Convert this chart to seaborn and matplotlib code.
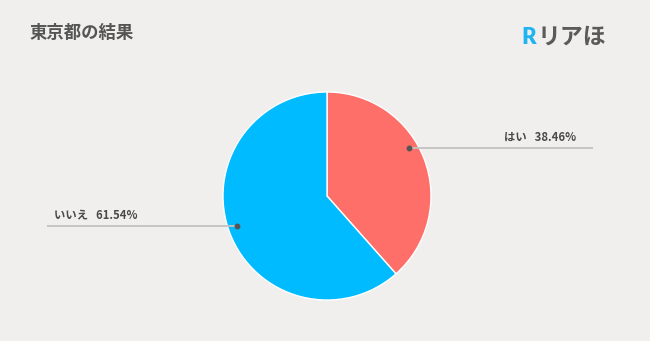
import numpy as np
import matplotlib
matplotlib.use("Agg")
import matplotlib.pyplot as plt
import seaborn as sns

categories = ["はい", "いいえ"]
values = [38.46, 61.54]
colors = ["#ff6f69", "#00bbff"]
title = "東京都の結果"

sns.set_theme(style="white")
plt.rcParams['font.family'] = ['Noto Sans CJK JP', 'DejaVu Sans']

W, H = 650, 341
bg = "#f0efed"
fig = plt.figure(figsize=(W / 100, H / 100), dpi=100, facecolor=bg)
ax = fig.add_axes([0, 0, 1, 1])
ax.set_facecolor(bg)

cx, cy, R = 327, H - 196, 104
wedges, _ = ax.pie(values, colors=colors, startangle=90, counterclock=False,
                   center=(cx, cy), radius=R, frame=True,
                   wedgeprops=dict(edgecolor="white", linewidth=1))
ax.set_xlim(0, W)
ax.set_ylim(0, H)
ax.set_aspect("auto")
ax.axis("off")

# label layout: (dot angle deg, line end x, text x, side)
layout = [(30.3, 593, 576, "right"), (198.4, 47, 54, "left")]
for cat, val, (ang, lx, tx, ha) in zip(categories, values, layout):
    a = np.deg2rad(ang)
    dx = cx + 0.91 * R * np.cos(a)
    dy = cy + 0.91 * R * np.sin(a)
    ax.plot([dx, lx], [dy, dy], color="#c4c2c0", lw=1.3, zorder=3, solid_capstyle="butt")
    ax.plot([dx], [dy], "o", color="#555555", ms=3.2, zorder=4)
    ax.text(tx, dy + 11, f"{cat}   {val:.2f}%", ha=ha, va="center",
            fontsize=8.2, color="#4a4a4a", fontweight="bold")

fig.text(30 / W, 1 - 33 / H, title, ha="left", va="center", fontsize=12.5,
         fontweight="bold", color="#555555")
fig.text(521 / W, 1 - 37 / H, "R", ha="left", va="center", fontsize=16,
         fontweight="heavy", color="#1fb3f0", family=["Lato", "DejaVu Sans"])
fig.text(538 / W, 1 - 37 / H, "リアほ", ha="left", va="center", fontsize=16.5,
         fontweight="bold", color="#5a5a5a")

fig.savefig("out.png", dpi=100, facecolor=bg)
